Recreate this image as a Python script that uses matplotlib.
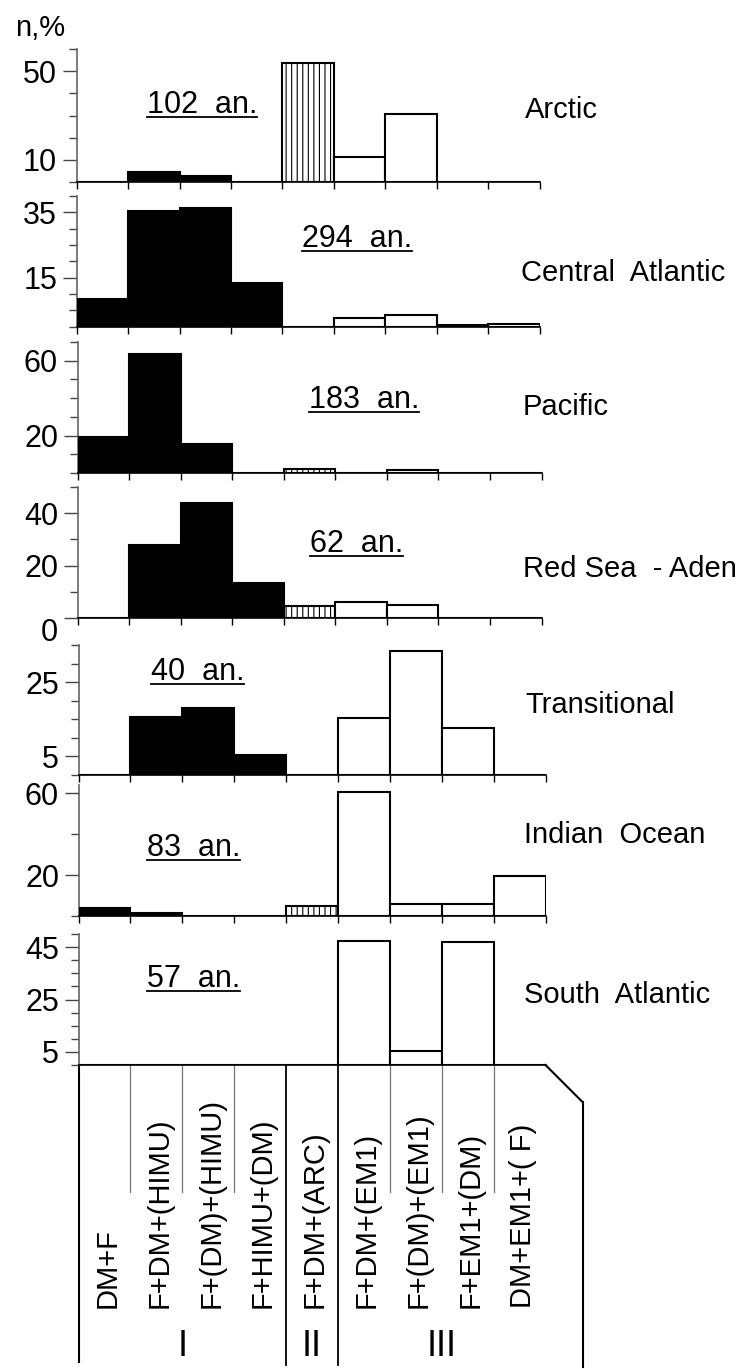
import matplotlib.pyplot as plt
import numpy as np

plt.rcParams['font.family'] = ['Liberation Sans', 'DejaVu Sans']
plt.rcParams['hatch.linewidth'] = 0.8

W, H = 746, 1369

# ---- data ----
regions = ["Arctic", "Central  Atlantic", "Pacific", "Red Sea  - Aden",
           "Transitional", "Indian  Ocean", "South  Atlantic"]
counts = ["102  an.", "294  an.", "183  an.", "62  an.", "40  an.", "83  an.", "57  an."]

arctic = [0, 4.7, 2.7, 0, 53.5, 11.2, 30.5, 0, 0]
central_atlantic = [8.5, 35.4, 36.4, 13.5, 0, 2.6, 3.6, 0.5, 0.7]
pacific = [19.3, 63.5, 15.8, 0, 2.1, 0, 2.0, 0, 0]
red_sea_aden = [0, 27.8, 43.9, 13.3, 4.8, 6.3, 4.9, 0, 0]
transitional = [0, 15.5, 18.1, 5.4, 0, 15.4, 33.4, 12.7, 0]
indian_ocean = [4.1, 1.6, 0, 0, 5.1, 60.7, 6.1, 6.1, 19.3]
south_atlantic = [0, 0, 0, 0, 0, 47.2, 5.4, 46.8, 0]
series = [arctic, central_atlantic, pacific, red_sea_aden,
          transitional, indian_ocean, south_atlantic]

components = ["DM+F", "F+DM+(HIMU)", "F+(DM)+(HIMU)", "F+HIMU+(DM)", "F+DM+(ARC)",
              "F+DM+(EM1)", "F+(DM)+(EM1)", "F+EM1+(DM)", "DM+EM1+( F)"]
groups = ["I", "II", "III"]
group_of_bin = [0, 0, 0, 0, 1, 2, 2, 2, 2]

y_max = [60, 40, 70, 50, 35, 64, 50]
y_step = [10, 5, 10, 10, 5, 20, 5]
y_labels = [[50, 10], [35, 15], [60, 20], [40, 20, 0], [25, 5], [60, 20], [45, 25, 5]]

# ---- layout (pixels, y from top) ----
p_top = [49, 196, 341.7, 486.7, 645, 785, 934]
p_base = [182, 326.7, 473.3, 618.3, 775, 916, 1065]
p_left = [76.6, 76.6, 77.5, 77.5, 78.5, 78.5, 78.5]
p_right = [539.7, 539.7, 541.6, 541.6, 545.5, 545.5, 545.5]
name_pos = [(525, 118), (521, 281), (523, 415), (523, 576.7),
            (525, 713), (524, 842.7), (524, 1002.7)]
count_pos = [(147, 113), (302, 246.7), (308.6, 408), (310, 551.7),
             (150.7, 680), (147, 856), (147, 986.7)]

fig = plt.figure(figsize=(W / 100, H / 100), dpi=100)

ov = fig.add_axes([0, 0, 1, 1])
ov.set_xlim(0, W)
ov.set_ylim(H, 0)
ov.axis('off')

for i, vals in enumerate(series):
    rect = [p_left[i] / W, 1 - p_base[i] / H,
            (p_right[i] - p_left[i]) / W, (p_base[i] - p_top[i]) / H]
    ax = fig.add_axes(rect)
    ax.set_facecolor('none')
    bars = ax.bar(np.arange(len(vals)), vals, width=1, align='edge',
                  edgecolor='black', linewidth=1.5, zorder=3)
    for b, g in zip(bars, group_of_bin):
        if g == 0:
            b.set_facecolor('black')
        else:
            b.set_facecolor('white')
        if g == 1:
            b.set_hatch('|||')
    ax.set_xlim(0, len(vals))
    ax.set_ylim(0, y_max[i])
    for s in ['top', 'right']:
        ax.spines[s].set_visible(False)
    ax.spines['left'].set_color('#666666')
    ax.spines['left'].set_linewidth(1.2)
    ax.spines['bottom'].set_color('black')
    ax.spines['bottom'].set_linewidth(1.2)

    ax.set_yticks(y_labels[i])
    ax.set_yticklabels([str(v) for v in y_labels[i]])
    ax.set_yticks(np.arange(0, y_max[i] + 0.1, y_step[i]), minor=True)
    ax.tick_params(axis='y', which='major', length=10, width=1, color='#444444',
                   labelsize=22, pad=4)
    ax.tick_params(axis='y', which='minor', length=6, width=1, color='#444444')
    # the "0" label sits a little below the baseline in the original
    for v, lbl in zip(y_labels[i], ax.get_yticklabels()):
        if v == 0:
            lbl.set_va('top')

    ax.set_xticks(np.arange(len(vals) + 1))
    ax.set_xticklabels([])
    if i < len(series) - 1:
        ax.tick_params(axis='x', length=5, width=1, direction='out', color='black')
    else:
        ax.tick_params(axis='x', length=0)

    ov.text(name_pos[i][0], name_pos[i][1], regions[i], fontsize=21,
            ha='left', va='baseline')

# sample counts (underlined)
count_texts = []
for (x, y), c in zip(count_pos, counts):
    count_texts.append(ov.text(x, y, c, fontsize=22, ha='left', va='baseline'))

ov.text(15, 36, "n,%", fontsize=21, ha='left', va='baseline')

# ---- component table under the last panel ----
xl, xr, base = p_left[-1], p_right[-1], p_base[-1]
edges = np.linspace(xl, xr, len(components) + 1)
ov.plot([edges[0], edges[0]], [base, 1362], color='black', lw=1.5)
for k in range(1, len(components)):
    if group_of_bin[k] != group_of_bin[k - 1]:
        ov.plot([edges[k], edges[k]], [base, 1365], color='black', lw=1.3)
    else:
        ov.plot([edges[k], edges[k]], [base, 1192], color='#777777', lw=0.9)
ov.plot([xr, xr + 37], [base, base + 37], color='black', lw=1.5)
ov.plot([xr + 37, xr + 37], [base + 37, 1367], color='black', lw=1.5)

for j, lab in enumerate(components):
    cx = (edges[j] + edges[j + 1]) / 2 + 3
    ov.text(cx, 1308, lab, rotation=90, fontsize=21, ha='center', va='bottom')

for gi, g in enumerate(groups):
    idx = [k for k, gg in enumerate(group_of_bin) if gg == gi]
    cx = (edges[idx[0]] + edges[idx[-1] + 1]) / 2
    ov.text(cx, 1347, g, fontsize=26, ha='center', va='center')

# underline the counts
fig.canvas.draw()
inv = ov.transData.inverted()
for t, (x, y) in zip(count_texts, count_pos):
    bb = t.get_window_extent()
    (x0, _), (x1, _) = inv.transform([[bb.x0, bb.y0], [bb.x1, bb.y1]])
    ov.plot([x0, x1], [y + 4, y + 4], color='black', lw=1.3)

fig.savefig('out.png', dpi=100)
